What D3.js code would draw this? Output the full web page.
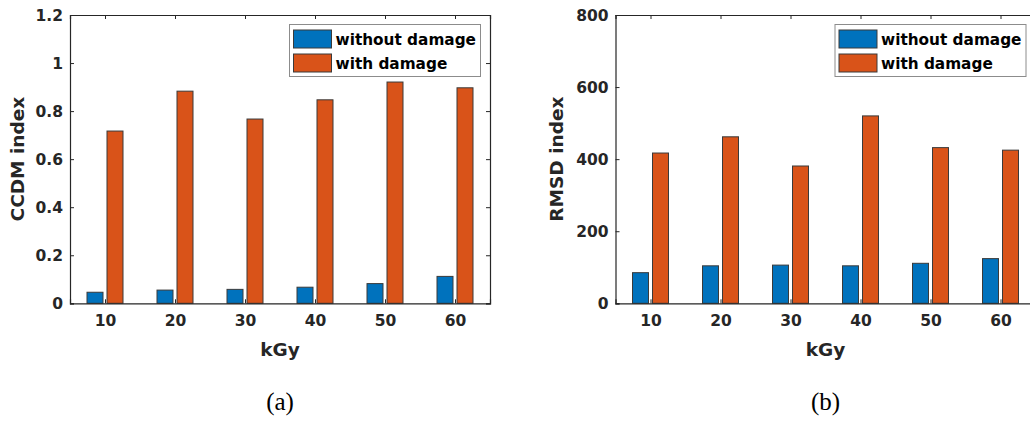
<!DOCTYPE html>
<html>
<head>
<meta charset="utf-8">
<script src="https://cdn.jsdelivr.net/npm/d3@7"></script>
<style>
  html, body { margin: 0; padding: 0; background: #fff; }
  svg { display: block; }
  text { font-family: "DejaVu Sans", sans-serif; font-weight: bold; fill: #262626; }
  .cap { font-family: "Liberation Serif", "Times New Roman", serif; font-weight: normal; fill: #000; }
</style>
</head>
<body>
<svg id="chart" width="1030" height="423"></svg>
<script>
// ---- data ----
const categories = [10, 20, 30, 40, 50, 60];
const seriesNames = ["without damage", "with damage"];
const ccdmWithout = [0.046, 0.055, 0.058, 0.067, 0.082, 0.112];
const ccdmWith    = [0.717, 0.883, 0.767, 0.847, 0.921, 0.897];
const rmsdWithout = [85, 104, 106, 104, 111, 124];
const rmsdWith    = [417, 462, 381, 520, 432, 425];
const ccdmTicks = [0, 0.2, 0.4, 0.6, 0.8, 1, 1.2];
const rmsdTicks = [0, 200, 400, 600, 800];
const colors = ["#0072BD", "#D95319"];

const svg = d3.select("#chart");

function panel(opts) {
  const g = svg.append("g");
  const x = d3.scaleLinear().domain([5, 65]).range([opts.left, opts.left + 420]);
  const y = d3.scaleLinear().domain([0, opts.ymax]).range([303.3, 15]);
  const inner = d3.scaleBand().domain(seriesNames).range([-18, 18]).paddingInner(0.2);

  // bars
  const series = [opts.without, opts.with];
  series.forEach((vals, si) => {
    g.selectAll(null).data(categories).enter().append("rect")
      .attr("x", (c) => x(c) + inner(seriesNames[si]))
      .attr("width", inner.bandwidth())
      .attr("y", (c, i) => y(vals[i]))
      .attr("height", (c, i) => y(0) - y(vals[i]))
      .attr("fill", colors[si])
      .attr("stroke", "#3a3a3a")
      .attr("stroke-width", 1);
  });

  // axes box
  const x0 = x.range()[0], x1 = x.range()[1], y0 = y.range()[0], y1 = y.range()[1];
  const axisColor = "#262626";
  const bottom = d3.axisBottom(x).tickValues(categories).tickSize(-4).tickPadding(11).tickFormat(d3.format("d"));
  const top = d3.axisTop(x).tickValues(categories).tickSize(-4).tickFormat("");
  const left = d3.axisLeft(y).tickValues(opts.ticks).tickSize(-4).tickPadding(7).tickFormat(opts.fmt);
  const right = d3.axisRight(y).tickValues(opts.ticks).tickSize(-4).tickFormat("");

  const gb = g.append("g").attr("transform", `translate(0,${y0})`).call(bottom);
  const gt = g.append("g").attr("transform", `translate(0,${y1})`).call(top);
  const gl = g.append("g").attr("transform", `translate(${x0},0)`).call(left);
  const gr = g.append("g").attr("transform", `translate(${x1},0)`).call(right);
  [gb, gt, gl, gr].forEach(a => {
    a.select(".domain").attr("stroke", axisColor).attr("stroke-width", 1.2);
    a.selectAll(".tick line").attr("stroke", axisColor);
    a.selectAll(".tick text").attr("fill", axisColor)
      .style("font-family", '"DejaVu Sans", sans-serif').style("font-weight", "bold").style("font-size", "15.5px");
  });
  gb.selectAll(".tick text").attr("dy", "0.75em");
  gl.selectAll(".tick text").attr("dy", "0.36em");

  // axis labels
  g.append("text").attr("x", (x0 + x1) / 2).attr("y", 356).attr("text-anchor", "middle")
    .style("font-size", "18.5px").text("kGy");
  g.append("text").attr("transform", `translate(${opts.ylabX},${(y0 + y1) / 2}) rotate(-90)`)
    .attr("text-anchor", "middle").style("font-size", "18.5px").text(opts.ylabel);

  // legend
  const lx = opts.left + 219.5, ly = 24.5;
  g.append("rect").attr("x", lx).attr("y", ly).attr("width", 191).attr("height", 52)
    .attr("fill", "#fff").attr("stroke", "#8c8c8c").attr("stroke-width", 1);
  seriesNames.forEach((name, i) => {
    g.append("rect").attr("x", lx + 4).attr("y", ly + 5.5 + i * 24).attr("width", 38).attr("height", 18)
      .attr("fill", colors[i]).attr("stroke", "#3a3a3a").attr("stroke-width", 1);
    g.append("text").attr("x", lx + 46).attr("y", ly + 20.5 + i * 24)
      .style("font-size", "15.3px").attr("fill", "#000").style("fill", "#000").text(name);
  });

  // caption
  g.append("text").attr("class", "cap").attr("x", (x0 + x1) / 2).attr("y", 410)
    .attr("text-anchor", "middle").style("font-size", "25px").text(opts.caption);
}

panel({ left: 70, ymax: 1.2, without: ccdmWithout, with: ccdmWith, ticks: ccdmTicks,
        fmt: d3.format("~g"), ylabel: "CCDM index", ylabX: 24, caption: "(a)" });
panel({ left: 615.5, ymax: 800, without: rmsdWithout, with: rmsdWith, ticks: rmsdTicks,
        fmt: d3.format("d"), ylabel: "RMSD index", ylabX: 563, caption: "(b)" });
</script>
</body>
</html>
